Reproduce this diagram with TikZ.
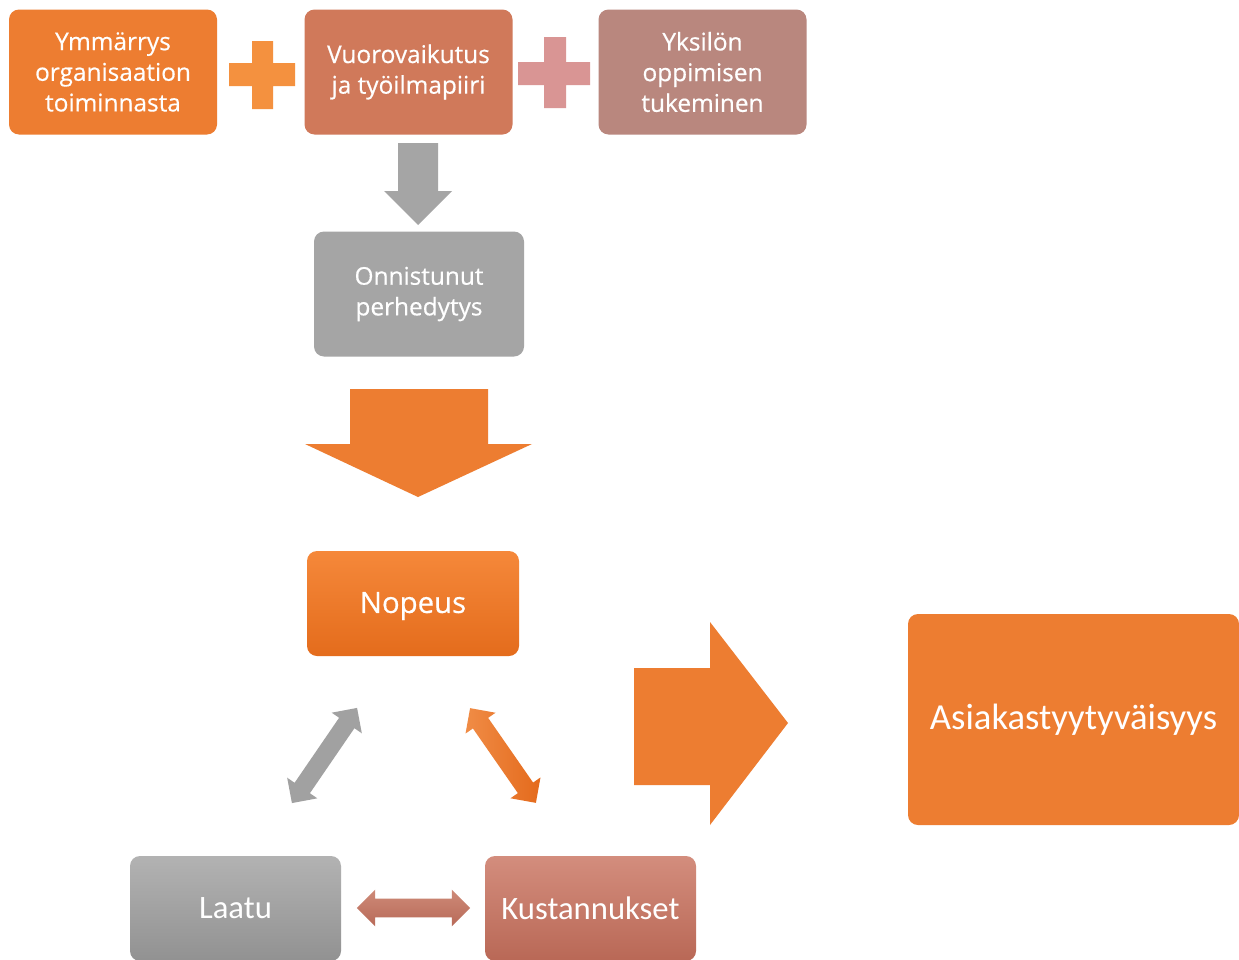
\documentclass[tikz,border=0pt]{standalone}
\usepackage{fontspec}
\setmainfont{Open Sans}
\newfontfamily\segfont[FakeBold=0.5]{Open Sans}
\newfontfamily\calfont{Carlito}
\usetikzlibrary{shapes.arrows}
\definecolor{orangeA}{HTML}{ED7D31}
\definecolor{plusA}{HTML}{F4913F}
\definecolor{terra}{HTML}{D0795A}
\definecolor{plusB}{HTML}{D99594}
\definecolor{mauve}{HTML}{B9877E}
\definecolor{grayA}{HTML}{A5A5A5}
\definecolor{nopTop}{HTML}{F5883A}
\definecolor{nopBot}{HTML}{E46C1C}
\tikzset{
  pbox/.style={rounded corners=7.5pt, inner sep=0pt, text=white, align=center},
  topbox/.style={pbox, minimum width=156pt, minimum height=93.75pt, font=\segfont\fontsize{18.3}{23}\selectfont},
  midbox/.style={pbox, minimum width=159pt, minimum height=78.75pt},
  dbl/.style={double arrow, inner xsep=0pt, inner ysep=6.75pt, minimum width=27pt, double arrow head extend=6.75pt, draw=none},
}
\begin{document}
\begin{tikzpicture}[x=0.75pt,y=-0.75pt]
\useasboundingbox[fill=white] (0,0) rectangle (1239,960);
% top row
\node[topbox, fill=orangeA] (ymm) at (113,72) {Ymmärrys\\organisaation\\toiminnasta};
\node[topbox, fill=terra] (vuo) at (408.5,72) {Vuorovaikutus\\ja työilmapiiri};
\node[topbox, fill=mauve] (yks) at (702.5,72) {Yksilön\\oppimisen\\tukeminen};
% plus signs
\fill[plusA] (229,63) rectangle (295,86) (252,41) rectangle (273,109);
\fill[plusB] (518,62) rectangle (590,85) (544,37) rectangle (566,108);
% gray down arrow
\fill[grayA] (398,143) -- (438,143) -- (438,191) -- (452,191) -- (418,225) -- (384,191) -- (398,191) -- cycle;
% onnistunut
\node[topbox, fill=grayA, minimum width=157.5pt] (onn) at (419,294) {Onnistunut\\perhedytys};
% big down arrow
\fill[orangeA] (350,389) -- (488,389) -- (488,444) -- (532,444) -- (418,497) -- (305,444) -- (350,444) -- cycle;
% Nopeus
\node[midbox, top color=nopTop, bottom color=nopBot] (nop) at (413,603.5) {};
\node[text=white, inner sep=0pt, font=\segfont\fontsize{22}{26}\selectfont] (noptxt) at (413,606) {Nopeus};
% Laatu, Kustannukset
\node[midbox, minimum width=158.25pt, top color=black!30, bottom color=black!43, font=\calfont\fontsize{24.5}{28}\selectfont] (laa) at (235.5,908.5) {Laatu};
\node[midbox, minimum width=158.25pt, top color={rgb,255:red,211;green,141;blue,125}, bottom color={rgb,255:red,185;green,104;blue,86}, font=\calfont\fontsize{24.5}{28}\selectfont] (kus) at (590.5,908.5) {Kustannukset};
% double arrows
\node[dbl, rotate=55.6, minimum height=86.5pt, fill=black!37] (ga) at (324.5,755.5) {};
\node[dbl, rotate=-55.2, minimum height=86.5pt, left color={rgb,255:red,240;green,140;blue,70}, right color={rgb,255:red,228;green,106;blue,28}] (oa) at (503,755.5) {};
\node[dbl, minimum height=85pt, top color={rgb,255:red,206;green,138;blue,120}, bottom color={rgb,255:red,184;green,106;blue,88}] (ha) at (413.5,908) {};
% big right arrow
\fill[orangeA] (634,668) -- (710,668) -- (710,622) -- (788,723) -- (710,825) -- (710,785) -- (634,785) -- cycle;
% Asiakastyytyvaisyys
\node[pbox, fill=orangeA, minimum width=248.25pt, minimum height=158.25pt, font=\calfont\fontsize{27.5}{32}\selectfont] (asi) at (1073.5,719.5) {Asiakastyytyväisyys};
\end{tikzpicture}
\end{document}
